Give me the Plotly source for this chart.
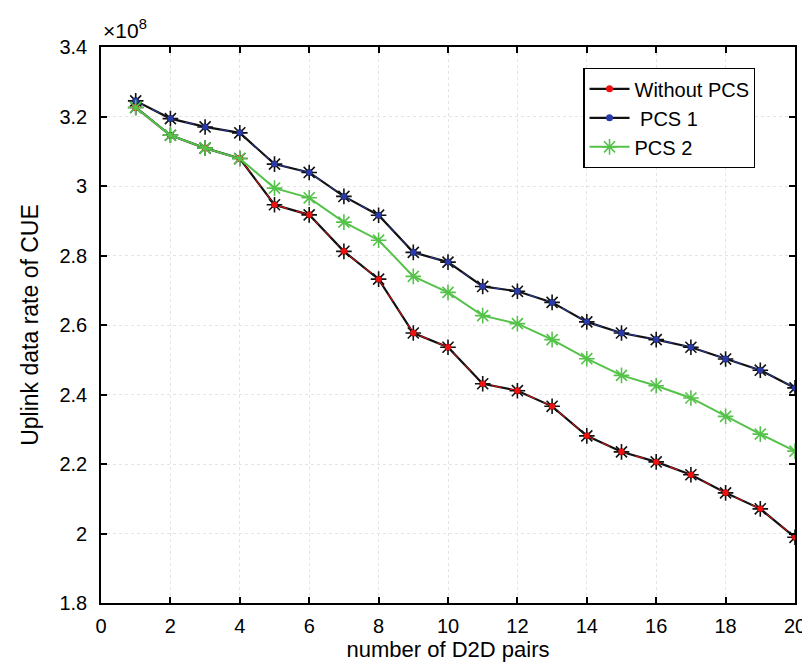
import plotly.graph_objects as go

pairs = list(range(1, 21))
without_pcs = [3.226, 3.146, 3.109, 3.079, 2.946, 2.917, 2.812, 2.732, 2.577, 2.536,
               2.431, 2.411, 2.366, 2.281, 2.235, 2.206, 2.169, 2.117, 2.071, 1.989]
pcs1 = [3.245, 3.194, 3.170, 3.153, 3.063, 3.039, 2.970, 2.916, 2.809, 2.781,
        2.711, 2.697, 2.665, 2.609, 2.577, 2.558, 2.536, 2.502, 2.470, 2.419]
pcs2 = [3.226, 3.146, 3.109, 3.079, 2.994, 2.966, 2.896, 2.844, 2.740, 2.694,
        2.627, 2.604, 2.558, 2.503, 2.455, 2.425, 2.390, 2.337, 2.286, 2.237]
y_ticks = [1.8, 2.0, 2.2, 2.4, 2.6, 2.8, 3.0, 3.2, 3.4]
y_tick_text = ["1.8", "2", "2.2", "2.4", "2.6", "2.8", "3", "3.2", "3.4"]
x_ticks = list(range(0, 21, 2))

FONT = "Liberation Sans, Arial"
fig = go.Figure()

def add_dark_series(name, vals, color):
    fig.add_trace(go.Scatter(x=pairs, y=vals, mode="lines+markers", name=name,
                             line=dict(color="#111111", width=2.2),
                             marker=dict(symbol="circle", size=7, color=color)))
    fig.add_trace(go.Scatter(x=pairs, y=vals, mode="lines", showlegend=False,
                             hoverinfo="skip",
                             line=dict(color=color, width=1, dash="dash")))
    fig.add_trace(go.Scatter(x=pairs, y=vals, mode="markers", showlegend=False,
                             hoverinfo="skip",
                             marker=dict(symbol="asterisk-open", size=13,
                                         color="#111111", line=dict(width=1.6, color="#111111"))))
    fig.add_trace(go.Scatter(x=pairs, y=vals, mode="markers", showlegend=False,
                             hoverinfo="skip",
                             marker=dict(symbol="circle", size=6, color=color)))

add_dark_series("Without PCS", without_pcs, "#ee1111")
add_dark_series(" PCS 1", pcs1, "#2a3aa8")

fig.add_trace(go.Scatter(x=pairs, y=pcs2, mode="lines+markers", name="PCS 2",
                         line=dict(color="#55c24a", width=2),
                         marker=dict(symbol="asterisk-open", size=13, color="#55c24a",
                                     line=dict(width=1.6, color="#55c24a"))))

axis_common = dict(showline=True, linecolor="black", linewidth=1.6, mirror="ticks",
                   ticks="inside", ticklen=6, tickwidth=1.5, tickcolor="black",
                   showgrid=True, gridcolor="#e4e4e4", griddash="dot", gridwidth=1,
                   zeroline=False,
                   tickfont=dict(family=FONT, size=20, color="black"))

fig.update_xaxes(range=[0, 20], tickvals=x_ticks, ticklabelstandoff=4,
                 title=dict(text="number of D2D pairs", standoff=6,
                            font=dict(family=FONT, size=22, color="black")),
                 **axis_common)
fig.update_yaxes(range=[1.8, 3.4], tickvals=y_ticks, ticktext=y_tick_text,
                 ticklabelstandoff=8,
                 title=dict(text="Uplink data rate of CUE", standoff=14,
                            font=dict(family=FONT, size=23, color="black")),
                 **axis_common)

fig.add_annotation(text="×10<sup>8</sup>", xref="paper", yref="paper", x=0, y=1,
                   xanchor="left", yanchor="bottom", showarrow=False, yshift=3,
                   font=dict(family=FONT, size=21, color="black"))

fig.update_layout(
    width=810, height=664,
    margin=dict(l=93, r=12, t=39, b=69),
    plot_bgcolor="white", paper_bgcolor="white",
    showlegend=True,
    legend=dict(x=0.695, y=0.962, xanchor="left", yanchor="top",
                bgcolor="white", bordercolor="black", borderwidth=1.2,
                font=dict(family=FONT, size=20, color="black"),
                tracegroupgap=0, itemwidth=40),
)

fig.write_html("out.html")
